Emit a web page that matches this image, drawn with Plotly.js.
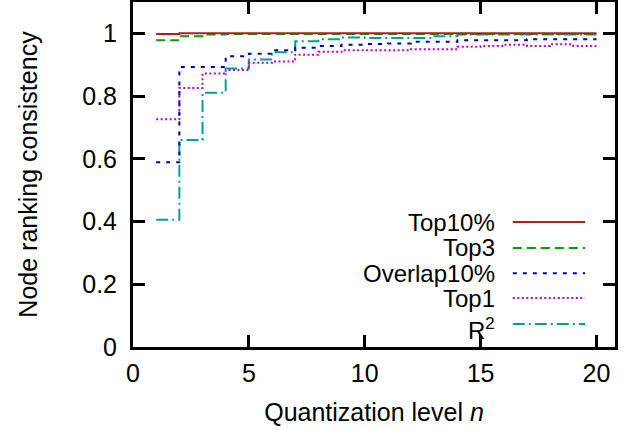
<!DOCTYPE html>
<html>
<head>
<meta charset="utf-8">
<script src="https://cdn.plot.ly/plotly-3.0.1.min.js"></script>
<style>html,body{margin:0;padding:0;background:#fff;}#chart{width:636px;height:430px;}</style>
</head>
<body>
<div id="chart"></div>
<script>
const levels = [1,2,3,4,5,6,7,8,9,10,11,12,13,14,15,16,17,18,19,20];
const top10pct = [0.998,1,1,1,1,1,1,1,1,1,1,1,1,1,1,1,1,1,1,1];
const top3 = [0.978,0.991,0.996,0.998,0.998,0.998,0.998,0.998,0.998,0.998,0.998,0.998,0.998,0.998,0.998,0.998,0.998,0.998,0.998,0.998];
const overlap10pct = [0.589,0.893,0.893,0.927,0.935,0.946,0.954,0.960,0.964,0.966,0.968,0.973,0.973,0.978,0.978,0.978,0.981,0.981,0.981,0.981];
const top1 = [0.726,0.826,0.872,0.883,0.906,0.910,0.932,0.941,0.946,0.946,0.946,0.949,0.949,0.957,0.960,0.964,0.960,0.965,0.960,0.960];
const rSquared = [0.406,0.660,0.811,0.888,0.917,0.940,0.975,0.981,0.987,0.985,0.985,0.985,0.991,0.996,0.996,0.996,0.996,0.996,0.996,0.996];
const seriesNames = ["Top10%","Top3","Overlap10%","Top1","R<sup>2</sup>"];
const xTicks = [0,5,10,15,20];
const yTicks = [0,0.2,0.4,0.6,0.8,1];

const colors = ["#b01e1e","#00a000","#0000b0","#c000c0","#00a0a0"];
const dashes = ["solid","9px,5px","4px,6px","2px,2.5px","12px,4px,2px,4px"];
const allY = [top10pct, top3, overlap10pct, top1, rSquared];

const traces = allY.map((ys,i)=>({
  x: levels, y: ys, type:"scatter", mode:"lines", name: seriesNames[i],
  line:{shape:"hv", color:colors[i], width:2, dash:dashes[i]}, showlegend:false
}));
traces.reverse();

const font = {family:"Liberation Sans, Arial, sans-serif", size:25, color:"#000"};
const legendFont = {family:"Liberation Sans, Arial, sans-serif", size:24, color:"#000"};
const annotations = [];
const shapes = [];
const rowY = [0.362,0.287,0.214,0.142,0.067];
const textY = [0.362,0.287,0.214,0.142,0.052];
seriesNames.forEach((n,i)=>{
  annotations.push({xref:"paper", yref:"paper", x:0.755, y:textY[i], xanchor:"right", yanchor:"middle",
    text:n, showarrow:false, font:legendFont});
  shapes.push({type:"line", xref:"paper", yref:"paper", x0:0.788, x1:0.938, y0:rowY[i], y1:rowY[i],
    line:{color:colors[i], width:2, dash:dashes[i]}});
});

const layout = {
  width:636, height:430,
  margin:{l:133, r:21, t:2, b:83},
  paper_bgcolor:"#fff", plot_bgcolor:"#fff",
  font:font,
  showlegend:false,
  xaxis:{range:[0,20.8], tickvals:xTicks, ticktext:xTicks.map(String), ticks:"inside", ticklen:12, tickwidth:3,
    tickcolor:"#000", showline:true, linewidth:3, linecolor:"#000", mirror:"ticks", showgrid:false, zeroline:false,
    tickfont:font, ticklabelstandoff:2, title:{text:"Quantization level <i>n</i>", font:font, standoff:18}},
  yaxis:{range:[0,1.1], tickvals:yTicks, ticktext:yTicks.map(String), ticks:"inside", ticklen:12, tickwidth:3,
    tickcolor:"#000", showline:true, linewidth:3, linecolor:"#000", mirror:"ticks", showgrid:false, zeroline:false,
    tickfont:font, ticklabelstandoff:8, title:{text:"Node ranking consistency", font:font, standoff:38}},
  annotations:annotations,
  shapes:shapes
};
Plotly.newPlot("chart", traces, layout, {staticPlot:true, displayModeBar:false});
</script>
</body>
</html>
